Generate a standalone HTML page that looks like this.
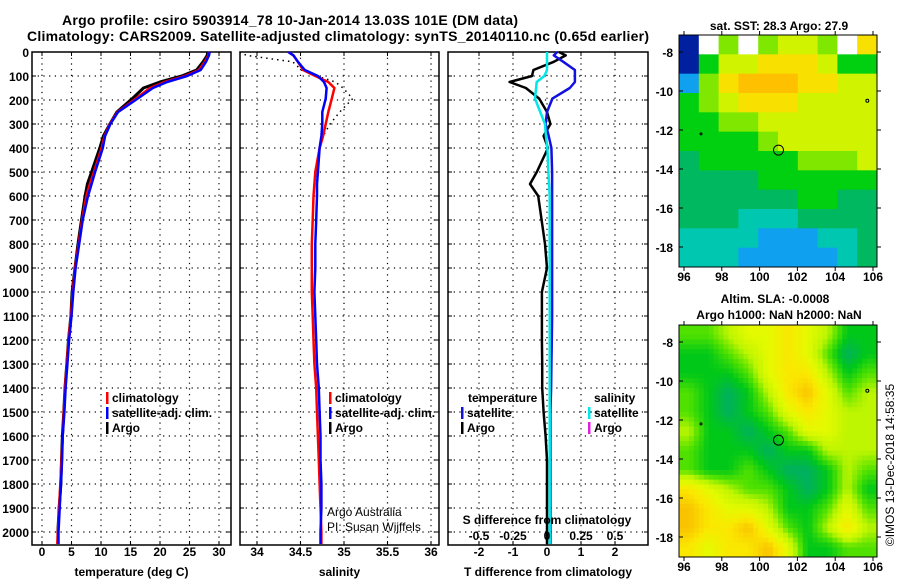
<!DOCTYPE html>
<html><head><meta charset="utf-8"><style>
body{margin:0;background:#fff}
svg{display:block;font-family:"Liberation Sans",sans-serif;font-weight:bold}
</style></head><body>
<svg id="c" width="900" height="580" viewBox="0 0 900 580" xmlns="http://www.w3.org/2000/svg">
<text x="290" y="25" font-size="14" text-anchor="middle" textLength="456">Argo profile: csiro 5903914_78 10-Jan-2014 13.03S 101E (DM data)</text>
<text x="338" y="41" font-size="14" text-anchor="middle" textLength="622">Climatology: CARS2009. Satellite-adjusted climatology: synTS_20140110.nc (0.65d earlier)</text>
<g id="g"></g>
</svg>
<script>
// ---- data ----
const depths=[0,14,41,75,100,125,150,194,250,300,350,400,500,550,600,700,800,900,1000,1100,1200,1300,1400,1500,1600,1700,1800,1900,2000,2050];
const tempArgo=[28.1,28.0,27.3,26.2,23.7,20.0,17.2,15.3,12.7,11.5,10.4,9.8,8.4,7.7,7.3,6.7,6.1,5.6,5.1,4.9,4.5,4.2,3.9,3.7,3.45,3.3,3.2,2.9,2.7,2.7];
const tempClim=[28.3,28.2,27.6,26.6,24.2,20.8,18.3,15.9,12.8,11.5,10.6,10.1,8.8,8.1,7.5,6.8,6.2,5.6,5.2,4.9,4.5,4.2,3.9,3.7,3.5,3.3,3.1,2.9,2.7,2.6];
const tempSat=[28.4,28.3,27.8,26.9,24.6,21.2,18.8,16.2,12.9,11.6,10.7,10.3,9.0,8.4,7.8,6.9,6.3,5.7,5.3,5.0,4.6,4.3,4.0,3.8,3.5,3.4,3.2,3.0,2.8,2.8];
const salArgo=[33.8,33.88,34.41,34.51,34.69,34.9,34.99,35.1,34.95,34.84,34.76,34.72,34.68,34.66,34.65,34.64,34.63,34.63,34.63,34.64,34.65,34.66,34.68,34.69,34.7,34.71,34.72,34.73,34.74,34.74];
const salClim=[34.36,34.42,34.47,34.53,34.67,34.82,34.89,34.86,34.82,34.79,34.76,34.72,34.67,34.66,34.65,34.64,34.63,34.63,34.63,34.64,34.65,34.66,34.68,34.69,34.7,34.71,34.72,34.73,34.74,34.74];
const salSat=[34.36,34.42,34.47,34.55,34.7,34.77,34.8,34.79,34.75,34.75,34.74,34.72,34.7,34.69,34.69,34.68,34.67,34.67,34.66,34.67,34.68,34.69,34.71,34.72,34.73,34.73,34.74,34.74,34.73,34.73];
const tDiffArgo=[0.35,0.55,0.2,-0.4,-0.44,-1.1,-0.62,-0.23,0,0.1,-0.1,0.03,-0.3,-0.5,-0.26,-0.16,-0.06,0,-0.15,-0.15,-0.15,-0.14,-0.14,-0.1,-0.04,0,0,0,0,0];
const tDiffSat=[0.3,0.2,0.48,0.82,0.82,0.82,0.67,0.16,0,-0.04,0.05,0.13,0.15,0.15,0.15,0.15,0.15,0.15,0.15,0.15,0.14,0.13,0.12,0.1,0.1,0.1,0.1,0.1,0.1,0.1];
const sDiffSat=[0,0,0,0,-0.02,-0.076,-0.08,-0.088,-0.05,-0.015,-0.008,0.003,0.01,0.015,0.02,0.02,0.02,0.02,0.02,0.02,0.02,0.02,0.02,0.02,0.02,0.02,0.02,0.02,0.02,0.02];
const depthTicks=[0,100,200,300,400,500,600,700,800,900,1000,1100,1200,1300,1400,1500,1600,1700,1800,1900,2000];
const tempTicks=[0,5,10,15,20,25,30];
const salTicks=[34,34.5,35,35.5,36];
const tdTicks=[-2,-1,0,1,2];
const sdTicks=["-0.5","-0.25","0","0.25","0.5"];
const sdTickVals=[-0.5,-0.25,0,0.25,0.5];
const latTicks=[-8,-10,-12,-14,-16,-18];
const lonTicks=[96,98,100,102,104,106];
const sstGrid=[
[0,-1,5,-1,5,6,6,5,-1,7],
[0,4,6,6,7,7,7,6,4,4],
[1,5,7,8,8,8,7,7,6,6],
[4,5,6,7,7,7,6,6,6,6],
[4,4,5,5,6,6,6,6,6,6],
[4,4,4,4,5,6,6,6,6,6],
[3,4,4,4,4,4,5,5,5,6],
[3,3,3,3,4,4,4,4,4,4],
[3,3,3,3,3,3,4,4,3,3],
[3,3,3,2,2,2,3,3,3,3],
[2,2,2,2,1,1,1,2,2,3],
[2,2,2,1,1,1,1,1,2,3]];
const slaGrid=[
[2,2,3,4,4,5,4,3,1,1],
[1,1,2,3,4,5,4,2,0,1],
[1,1,1,2,4,5,5,3,1,2],
[2,1,0,1,3,5,6,4,2,3],
[2,1,0,1,2,4,5,4,3,3],
[3,1,1,0,1,2,4,4,3,3],
[2,1,1,1,0,1,1,3,3,3],
[2,1,1,2,1,0,0,1,3,2],
[5,4,3,2,2,1,0,1,3,1],
[6,5,4,4,3,1,1,2,4,2],
[6,5,5,6,4,2,1,3,5,3],
[5,4,5,5,6,4,1,1,2,2]];
const sstColors=["#0020a0","#10a0f0","#00c8b0","#00b860","#00d010","#80e800","#d0f400","#f8e000","#ffc000"];
const slaColors=[[0,176,96],[0,200,24],[80,225,0],[190,245,0],[228,250,0],[250,232,0],[250,195,0]];

// ---- helpers ----
const NS="http://www.w3.org/2000/svg";
const G=document.getElementById('g');
function mk(tag,attrs,parent){const e=document.createElementNS(NS,tag);for(const k in attrs)e.setAttribute(k,attrs[k]);(parent||G).appendChild(e);return e;}
function txt(x,y,s,size,anchor,weight,parent){const e=mk('text',{x:x,y:y,'font-size':size,'text-anchor':anchor||'start'},parent);if(weight)e.setAttribute('font-weight',weight);e.textContent=s;return e;}
const Y=d=>52+d*0.24;
const P1={x0:32,x1:231,f:v=>42+v*5.9};
const P2={x0:240,x1:439,f:v=>257+(v-34)*87};
const P3={x0:448,x1:648,f:v=>547+v*34};
const yB=545;

function panel(P,name,xt,xlab,title){
  const g=mk('g',{});
  
  
  depthTicks.forEach(d=>{if(d>0){const l=mk('line',{x1:P.x0,x2:P.x1,y1:Y(d),y2:Y(d),stroke:'#000','stroke-width':1.2,'stroke-dasharray':'1.2 4.5'},g);}});
  xt.forEach((v,i)=>{const x=P.f(v);if(x>P.x0+2&&x<P.x1-2){const l=mk('line',{x1:x,x2:x,y1:52,y2:yB,stroke:'#000','stroke-width':1.2,'stroke-dasharray':'1.2 4.5'},g);}
    mk('line',{x1:x,x2:x,y1:yB,y2:yB-4,stroke:'#000'},g);mk('line',{x1:x,x2:x,y1:52,y2:56,stroke:'#000'},g);
    const t=txt(x,556,xlab[i],12,'middle',null,g);});
  const r=mk('rect',{x:P.x0,y:52,width:P.x1-P.x0,height:yB-52,fill:'none',stroke:'#000','stroke-width':1.5},g);
  
  const t=txt((P.x0+P.x1)/2,576,title,12,'middle',null,g);
  
  return g;
}
function line(P,vals,color,w,dash,name){
  const pts=vals.map((v,i)=>P.f(v).toFixed(1)+','+Y(depths[i]).toFixed(1)).join(' ');
  const a={points:pts,fill:'none',stroke:color,'stroke-width':w,'stroke-linejoin':'round'};
  if(dash)a['stroke-dasharray']=dash;
  const e=mk('polyline',a);
  
  
}
function legend(x,y,color,label){
  const b=mk('rect',{x:x,y:y-10,width:2.5,height:12,fill:color});
  
  const t=txt(x+6,y,label,12,'start');
  
}

depthTicks.forEach(d=>{const t=txt(29,Y(d)+5,String(d),12,'end');
  [P1,P2,P3].forEach(P=>{mk('line',{x1:P.x0,x2:P.x0+4,y1:Y(d),y2:Y(d),stroke:'#000'});mk('line',{x1:P.x1,x2:P.x1-4,y1:Y(d),y2:Y(d),stroke:'#000'});});});

panel(P1,'temperature-panel',tempTicks,tempTicks.map(String),'temperature (deg C)');
panel(P2,'salinity-panel',salTicks,salTicks.map(String),'salinity');
panel(P3,'difference-panel',tdTicks,tdTicks.map(String),'T difference from climatology');

line(P1,tempArgo,'#000',3,null,'temp-argo-line');
line(P1,tempClim,'#f00',2.5,null,'temp-climatology-line');
line(P1,tempSat,'#00f',2.5,null,'temp-satellite-line');
line(P2,salArgo,'#000',1.5,'1.5 4','sal-argo-line');
line(P2,salClim,'#f00',2.5,null,'sal-climatology-line');
line(P2,salSat,'#00f',2.5,null,'sal-satellite-line');
line(P3,tDiffArgo,'#000',2.5,null,'tdiff-argo-line');
line(P3,tDiffSat,'#1010e0',2.5,null,'tdiff-satellite-line');
line(P3,sDiffSat.map(v=>v*4),'#00e8e8',2.5,null,'sdiff-satellite-line');

legend(106,402,'#f00','climatology');legend(106,417,'#00f','satellite-adj. clim.');legend(106,432,'#000','Argo');
legend(329,402,'#f00','climatology');legend(329,417,'#00f','satellite-adj. clim.');legend(329,432,'#000','Argo');
let t1=txt(468,402,'temperature',12,'start');
let t2=txt(594,402,'salinity',12,'start');
legend(461,417,'#1010e0','satellite');legend(461,432,'#000','Argo');
legend(588,417,'#00e8e8','satellite');legend(588,432,'#e020e0','Argo');
let a1=txt(327,516,'Argo Australia',12,'start','normal');
let a2=txt(327,531,'PI: Susan Wijffels',12,'start','normal');
let s1=txt(547,524,'S difference from climatology',12,'middle');
sdTickVals.forEach((v,i)=>{const t=txt(P3.f(v*4),540,sdTicks[i],12,'middle');});

function map(top,grid,name,colorFn,smooth){
  const g=mk('g',{});
  
  
  const x0=679,x1=877,h=232,rows=grid.length,cols=grid[0].length;
  if(!smooth){
    const cw=(x1-x0)/cols,ch=h/rows;
    grid.forEach((row,r)=>row.forEach((v,c)=>{const e=mk('rect',{x:x0+c*cw,y:top+r*ch,width:cw+0.5,height:ch+0.5,fill:v<0?'#fff':colorFn(v)},g);
      }));
  } else {
    const n=4,cw=(x1-x0)/(cols*n),ch=h/(rows*n);
    for(let i=0;i<rows*n;i++)for(let j=0;j<cols*n;j++){
      const fr=Math.max(0,Math.min(rows-1,(i+0.5)/n-0.5)),fc=Math.max(0,Math.min(cols-1,(j+0.5)/n-0.5));
      const r0=Math.floor(fr),c0=Math.floor(fc),r1=Math.min(rows-1,r0+1),c1=Math.min(cols-1,c0+1),ar=fr-r0,ac=fc-c0;
      const v=(grid[r0][c0]*(1-ac)+grid[r0][c1]*ac)*(1-ar)+(grid[r1][c0]*(1-ac)+grid[r1][c1]*ac)*ar;
      const e=mk('rect',{x:x0+j*cw,y:top+i*ch,width:cw+0.4,height:ch+0.4,fill:colorFn(v)},g);
      
    }
  }
  const fr=mk('rect',{x:x0,y:top,width:x1-x0,height:h,fill:'none',stroke:'#000','stroke-width':1},g);
  
  const lonX=l=>684+(l-96)*18.9, latY=l=>top+17+(-8-l)*19.5;
  latTicks.forEach(l=>{const t=txt(673,latY(l)+5,String(l),12,'end',null,g);
    mk('line',{x1:x0,x2:x0+4,y1:latY(l),y2:latY(l),stroke:'#000'},g);mk('line',{x1:x1,x2:x1+4,y1:latY(l),y2:latY(l),stroke:'#000'},g);});
  lonTicks.forEach(l=>{const t=txt(lonX(l),top+h+14,String(l),12,'middle',null,g);
    mk('line',{x1:lonX(l),x2:lonX(l),y1:top,y2:top-4,stroke:'#000'},g);mk('line',{x1:lonX(l),x2:lonX(l),y1:top+h,y2:top+h+4,stroke:'#000'},g);});
  const c=mk('circle',{cx:lonX(101),cy:latY(-13.03),r:5,fill:'none',stroke:'#000','stroke-width':1},g);
  
  mk('circle',{cx:lonX(105.7),cy:latY(-10.5),r:1.5,fill:'none',stroke:'#000'},g);
  mk('circle',{cx:lonX(96.9),cy:latY(-12.2),r:1,fill:'none',stroke:'#000'},g);
}
map(35,sstGrid,'sst-map',v=>sstColors[v],false);
map(325,slaGrid,'sla-map',v=>{const i=Math.min(slaColors.length-2,Math.floor(v)),f=v-i,a=slaColors[i],b=slaColors[i+1];return 'rgb('+a.map((x,k)=>Math.round(x+(b[k]-x)*f)).join(',')+')';},true);
let m1=txt(779,30,'sat. SST: 28.3 Argo: 27.9',12,'middle');
let m2=txt(775,303,'Altim. SLA: -0.0008',12,'middle');
let m3=txt(779,319,'Argo h1000: NaN h2000: NaN',12,'middle');
let im=txt(0,0,'©IMOS 13-Dec-2018 14:58:35',12,'middle','normal');
im.setAttribute('transform','translate(894,465) rotate(-90)');

</script>
</body></html>
